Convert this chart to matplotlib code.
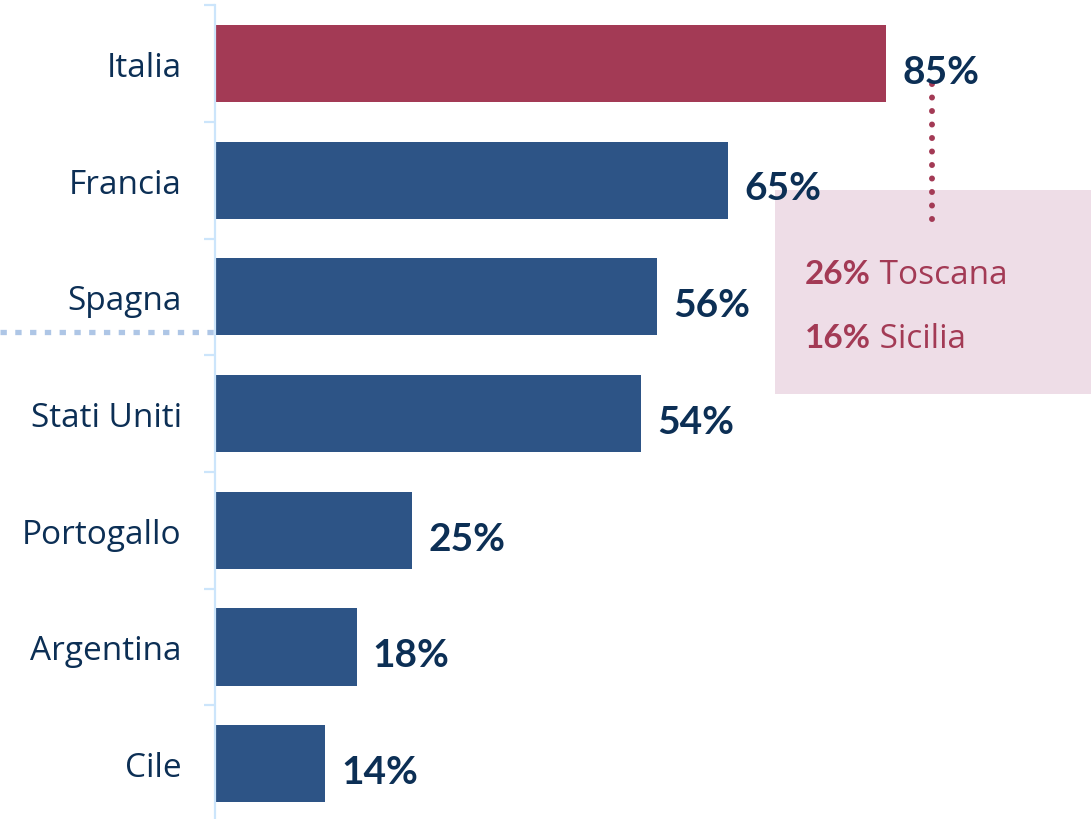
import matplotlib
matplotlib.use("Agg")
import matplotlib.pyplot as plt
from matplotlib.patches import Rectangle

# data
countries = ["Italia", "Francia", "Spagna", "Stati Uniti", "Portogallo", "Argentina", "Cile"]
shares = [85, 65, 56, 54, 25, 18, 14]
highlight = "Italia"
regions = ["Toscana", "Sicilia"]
region_shares = [26, 16]

NAVY = "#0c2f55"
BAR = "#2d5486"
RED = "#a33a55"
PINK = "#eedde7"
AXIS = "#cce5fb"
DOTS = "#aec6e6"

LABEL_FONT = ["Open Sans", "DejaVu Sans"]
NUM_FONT = ["Lato", "DejaVu Sans"]
plt.rcParams["font.family"] = LABEL_FONT

fig = plt.figure(figsize=(10.91, 8.2), dpi=100, facecolor="white")
ax = fig.add_axes([0, 0, 1, 1])
ax.set_xlim(-27.2, 110.9)
ax.set_ylim(6.474, -0.553)

ypos = list(range(len(countries)))
colors = [RED if c == highlight else BAR for c in countries]
ax.barh(ypos, shares, height=0.66, color=colors, zorder=2)

for y, v in zip(ypos, shares):
    ax.text(v + 2.0, y + 0.165, f"{v}%", ha="left", va="baseline", family=NUM_FONT,
            fontsize=28, fontweight="bold", color=NAVY, zorder=5)

# axis
for side in ("top", "right", "bottom"):
    ax.spines[side].set_visible(False)
ax.spines["left"].set_position(("data", 0))
ax.spines["left"].set_bounds(-0.5, 6.474)
ax.spines["left"].set_color(AXIS)
ax.spines["left"].set_linewidth(1.6)
ax.set_xticks([])
ax.set_yticks(ypos)
ax.set_yticklabels(countries)
ax.tick_params(axis="y", which="major", length=0, pad=24, labelsize=24, labelcolor=NAVY)
ax.set_yticks([i - 0.5 for i in ypos], minor=True)
ax.tick_params(axis="y", which="minor", length=8, width=1.6, color=AXIS)

# dotted reference line on the left
ax.plot([ax.get_xlim()[0], 0], [2.30, 2.30], color=DOTS, lw=3.8,
        linestyle=(0, (1.2, 1.6)), solid_capstyle="butt", clip_on=False, zorder=1)

# regional breakdown box
ax.add_patch(Rectangle((70.9, 1.084), 40.0, 1.748, facecolor=PINK, edgecolor="none", zorder=1))
ax.plot([90.8, 90.8], [0.176, 1.35], color=RED, lw=4.3,
        linestyle=(0, (0.01, 2.25)), dash_capstyle="round", zorder=3)

fig.canvas.draw()
renderer = fig.canvas.get_renderer()
for y, name, v in zip([1.78, 2.33], regions, region_shares):
    t = ax.text(74.7, y + 0.1, f"{v}%", ha="left", va="baseline", family=NUM_FONT,
                fontsize=24, fontweight="bold", color=RED, zorder=4)
    bb = t.get_window_extent(renderer)
    base_y = ax.transData.transform((0, y + 0.1))[1]
    ax.annotate(f" {name}", xy=(bb.x1, base_y), xycoords="figure pixels",
                ha="left", va="baseline", fontsize=24, color=RED, zorder=4,
                annotation_clip=False)

fig.savefig("out.png", dpi=100, facecolor="white")
